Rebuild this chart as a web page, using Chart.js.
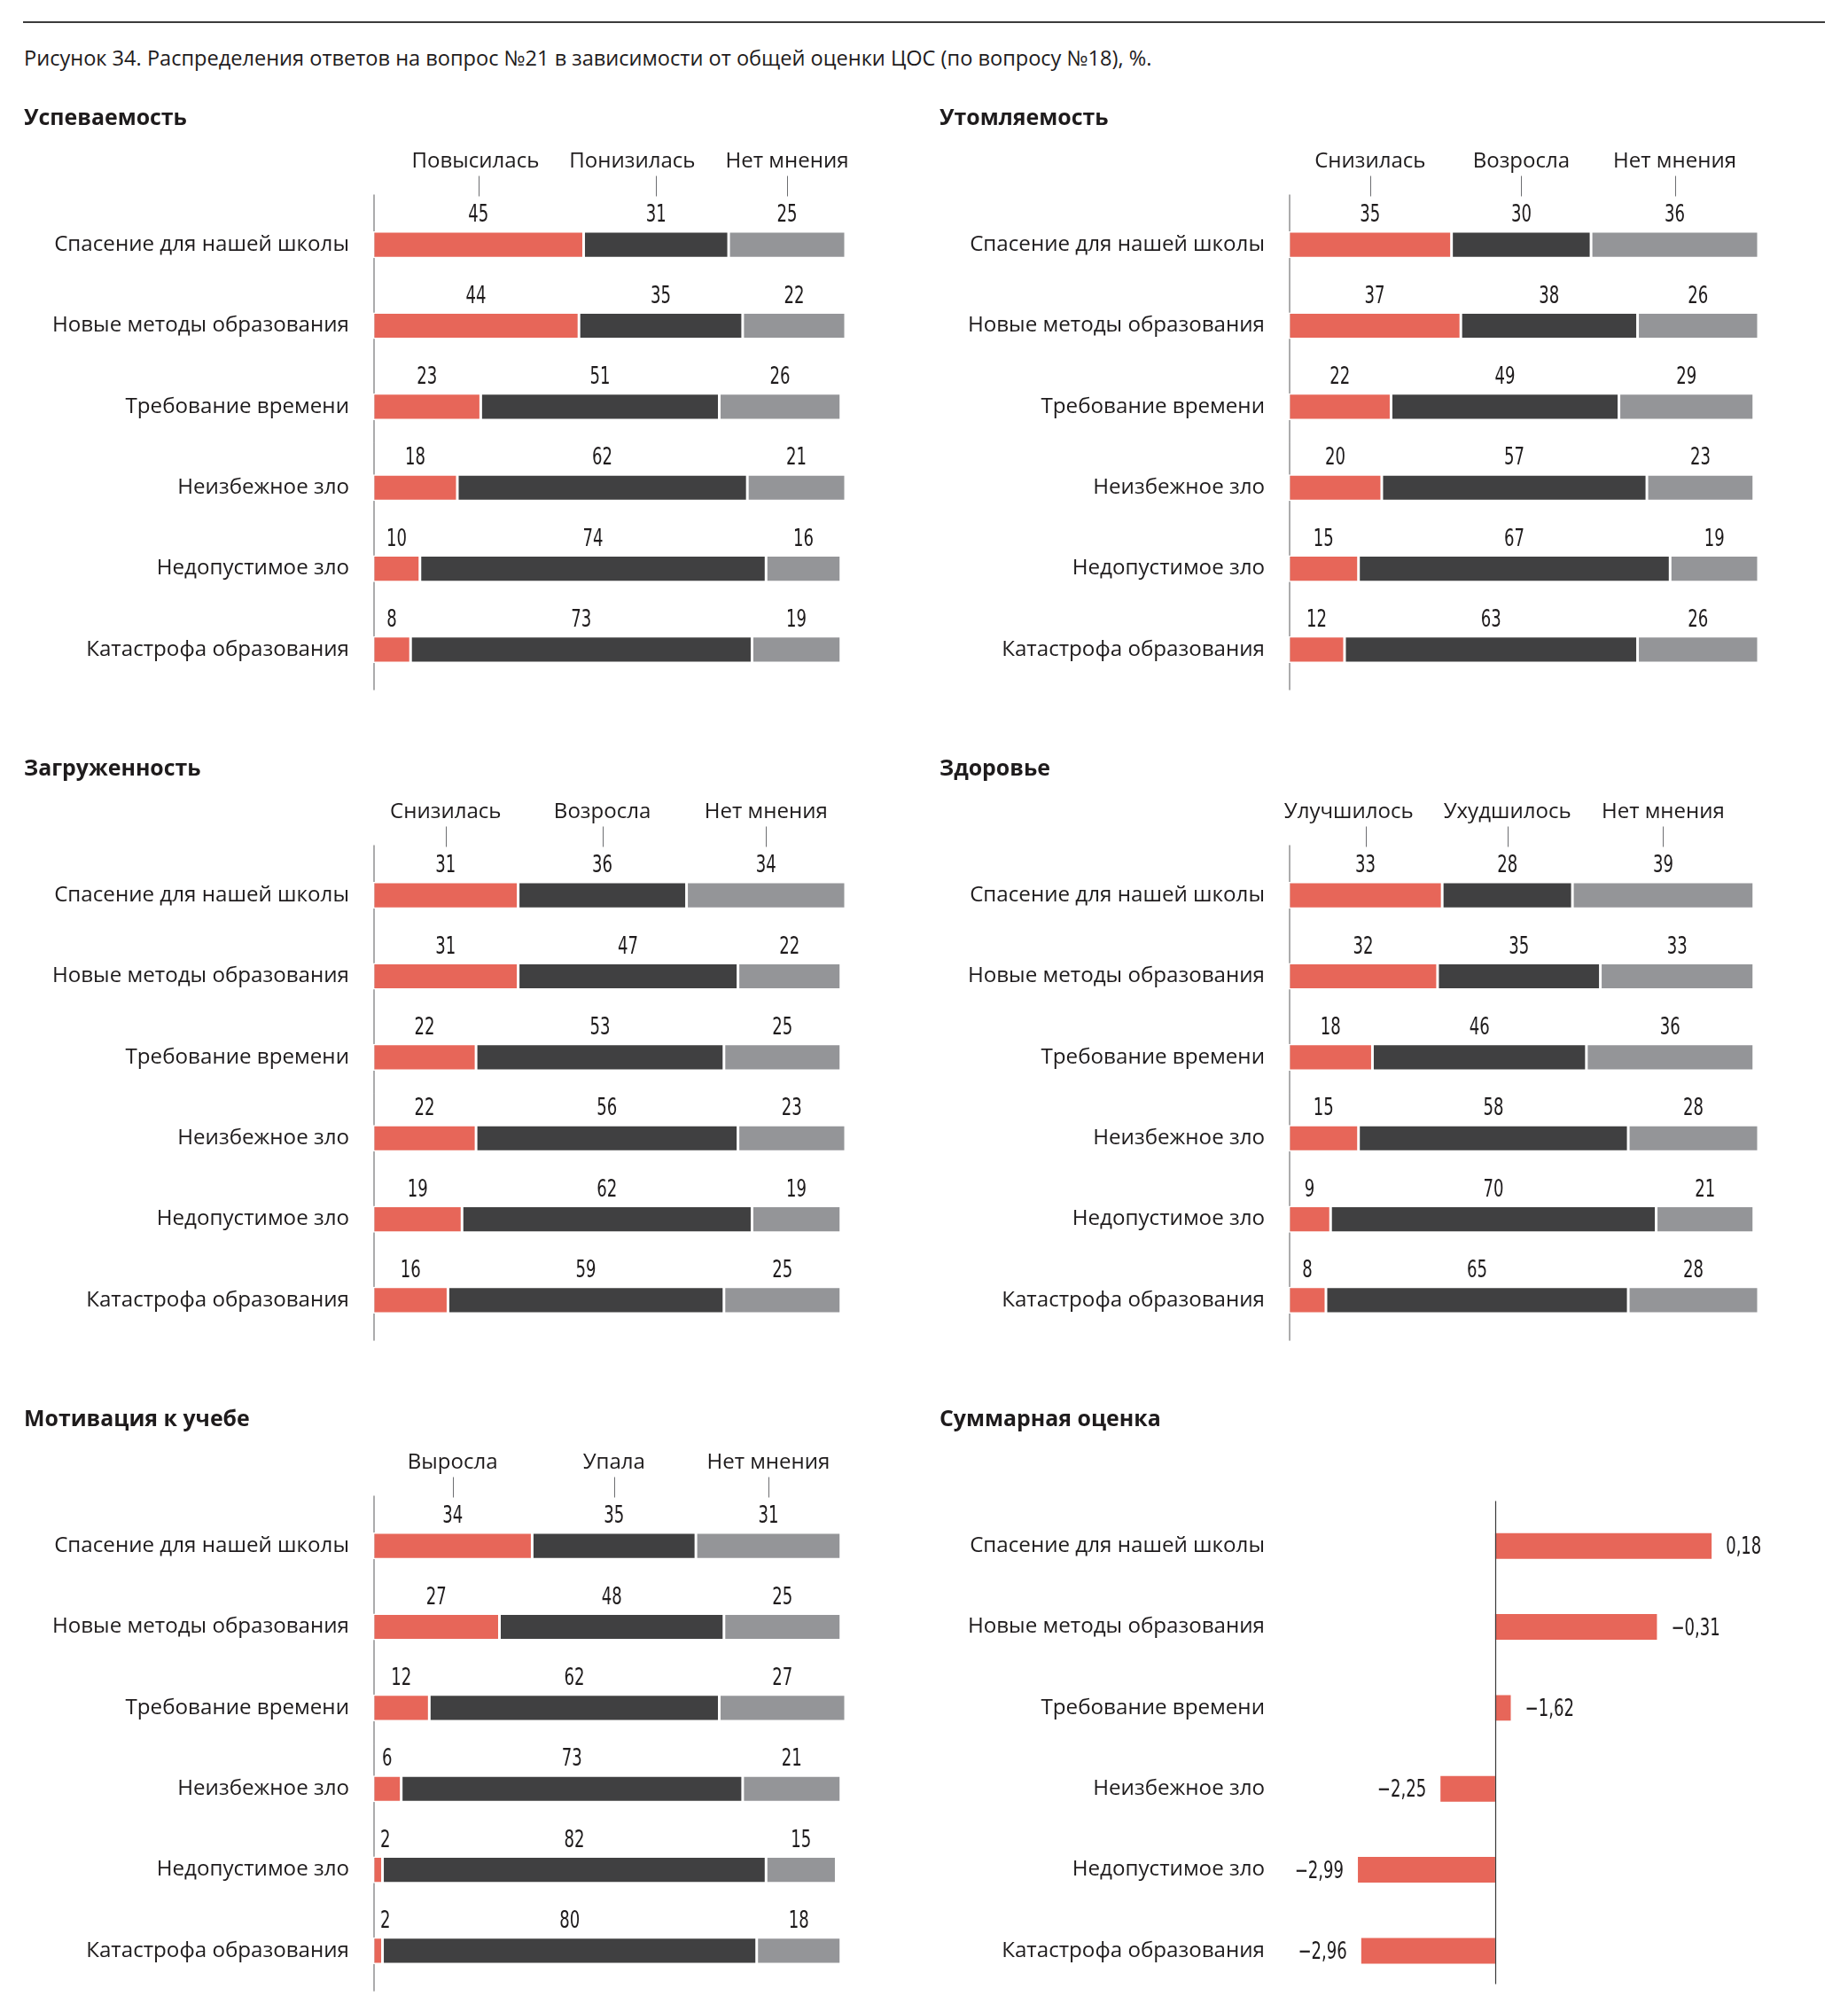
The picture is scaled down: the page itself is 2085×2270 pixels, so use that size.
<!DOCTYPE html>
<html lang="ru">
<head>
<meta charset="utf-8">
<title>Рисунок 34</title>
<script src="https://cdn.jsdelivr.net/npm/chart.js@4.4.1/dist/chart.umd.min.js"></script>
<style>
  html, body { margin: 0; padding: 0; background: #fff; }
  body { width: 2085px; height: 2270px; position: relative; overflow: hidden; }
  #rule { position: absolute; left: 26px; top: 24px; width: 2033px; height: 2px; background: #3b3b3b; }
  #caption { position: absolute; left: 27px; top: 65px; transform: translateY(-50%); white-space: nowrap;
             color: #1e1b1c; font-family: "Open Sans", sans-serif; line-height: 1.2; }
  canvas { position: absolute; }
</style>
</head>
<body>
<div id="rule"></div>
<div id="caption">Рисунок 34. Распределения ответов на вопрос №21 в зависимости от общей оценки ЦОС (по вопросу №18), %.</div>
<canvas id="c1"></canvas>
<canvas id="c2"></canvas>
<canvas id="c3"></canvas>
<canvas id="c4"></canvas>
<canvas id="c5"></canvas>
<canvas id="c6"></canvas>
<script>
/* data */
var categories = ['Спасение для нашей школы', 'Новые методы образования', 'Требование времени',
                  'Неизбежное зло', 'Недопустимое зло', 'Катастрофа образования'];

var uspevTitle = 'Успеваемость';
var uspevLegend = ['Повысилась', 'Понизилась', 'Нет мнения'];
var uspevUp = [45, 44, 23, 18, 10, 8];
var uspevDown = [31, 35, 51, 62, 74, 73];
var uspevNone = [25, 22, 26, 21, 16, 19];

var tiredTitle = 'Утомляемость';
var tiredLegend = ['Снизилась', 'Возросла', 'Нет мнения'];
var tiredDown = [35, 37, 22, 20, 15, 12];
var tiredUp = [30, 38, 49, 57, 67, 63];
var tiredNone = [36, 26, 29, 23, 19, 26];

var loadTitle = 'Загруженность';
var loadLegend = ['Снизилась', 'Возросла', 'Нет мнения'];
var loadDown = [31, 31, 22, 22, 19, 16];
var loadUp = [36, 47, 53, 56, 62, 59];
var loadNone = [34, 22, 25, 23, 19, 25];

var healthTitle = 'Здоровье';
var healthLegend = ['Улучшилось', 'Ухудшилось', 'Нет мнения'];
var healthBetter = [33, 32, 18, 15, 9, 8];
var healthWorse = [28, 35, 46, 58, 70, 65];
var healthNone = [39, 33, 36, 28, 21, 28];

var motivTitle = 'Мотивация к учебе';
var motivLegend = ['Выросла', 'Упала', 'Нет мнения'];
var motivUp = [34, 27, 12, 6, 2, 2];
var motivDown = [35, 48, 62, 73, 82, 80];
var motivNone = [31, 25, 27, 21, 15, 18];

var summaryTitle = 'Суммарная оценка';
var summaryScore = [0.18, -0.31, -1.62, -2.25, -2.99, -2.96];
var summaryBase = -1.76;

/* fonts */
var textFamily = '"Open Sans", "Noto Sans", sans-serif';
var probe = document.createElement('canvas').getContext('2d');

function hasFont(name) {
  probe.font = '40px monospace';
  var a = probe.measureText('0123456789 Тест').width;
  probe.font = '40px "' + name + '", monospace';
  return probe.measureText('0123456789 Тест').width !== a;
}
function fitSize(text, weight, family, target) {
  probe.font = weight + ' 100px ' + family;
  return 100 * target / probe.measureText(text).width;
}

var numFamily = 'Roboto';
if (hasFont('Liberation Sans Narrow')) numFamily = '"Liberation Sans Narrow"';
else if (hasFont('DejaVu Sans Condensed')) numFamily = '"DejaVu Sans Condensed"';
var numSize = 27;
probe.font = numSize + 'px ' + numFamily;
var numStretch = Math.min(1, 23 / probe.measureText('45').width);

var labelSize = fitSize(categories[0], 'normal', textFamily, 333);
var legendSize = fitSize(uspevLegend[0], 'normal', textFamily, 144);
var headSize = fitSize(uspevTitle, 'bold', textFamily, 184);
var caption = document.getElementById('caption');
caption.style.fontSize = fitSize(caption.textContent, 'normal', textFamily, 1273) + 'px';

var ink = '#1e1b1c';
var colors = ['#e76659', '#404041', '#949598'];

function drawNum(ctx, text, x, y, align) {
  ctx.save();
  ctx.translate(x, y);
  ctx.scale(numStretch, 1);
  ctx.font = numSize + 'px ' + numFamily;
  ctx.fillStyle = ink;
  ctx.textAlign = align;
  ctx.textBaseline = 'middle';
  ctx.fillText(text, 0, 0);
  ctx.restore();
}
function numWidth(ctx, text) {
  ctx.save();
  ctx.font = numSize + 'px ' + numFamily;
  var w = ctx.measureText(text).width * numStretch;
  ctx.restore();
  return w;
}
function fmt(v) {
  return v.toFixed(2).replace('.', ',').replace('-', '\u2212');
}

/* title, axis line, value labels, legend with ticks */
var panelDecor = {
  id: 'panelDecor',
  beforeDatasetsDraw: function (chart, args, opts) {
    if (opts.summary) return;
    var a = chart.chartArea, ctx = chart.ctx;
    ctx.save();
    ctx.strokeStyle = '#58585a';
    ctx.lineWidth = 1;
    ctx.beginPath();
    ctx.moveTo(a.left + 1, a.top - 11);
    ctx.lineTo(a.left + 1, a.bottom);
    ctx.stroke();
    ctx.restore();
  },
  afterDatasetsDraw: function (chart, args, opts) {
    var a = chart.chartArea, ctx = chart.ctx;
    ctx.save();
    ctx.fillStyle = ink;
    ctx.font = 'bold ' + headSize + 'px ' + textFamily;
    ctx.textAlign = 'left';
    ctx.textBaseline = 'middle';
    ctx.fillText(opts.title, opts.titleX, a.top - 97);
    ctx.restore();

    if (opts.summary) {
      var xs = chart.scales.x;
      var bx = Math.round(xs.getPixelForValue(summaryBase)) + 0.5;
      ctx.save();
      ctx.strokeStyle = '#3a3a3a';
      ctx.lineWidth = 1.2;
      ctx.beginPath();
      ctx.moveTo(bx, a.top - 5);
      ctx.lineTo(bx, a.bottom - 8);
      ctx.stroke();
      ctx.restore();
      chart.getDatasetMeta(0).data.forEach(function (bar, i) {
        var v = summaryScore[i];
        if (v >= summaryBase) drawNum(ctx, fmt(v), bar.x + 16, bar.y + 2, 'left');
        else drawNum(ctx, fmt(v), bar.x - 16, bar.y + 2, 'right');
      });
      return;
    }

    var ticks = [];
    chart.data.datasets.forEach(function (ds, d) {
      chart.getDatasetMeta(d).data.forEach(function (bar, i) {
        var cx = (bar.x + bar.base) / 2;
        var t = String(ds.data[i]);
        var w = numWidth(ctx, t);
        if (cx - w / 2 < a.left + 8) cx = a.left + 8 + w / 2;
        drawNum(ctx, t, cx, bar.y - 33, 'center');
        if (i === 0) ticks.push((bar.x + bar.base) / 2);
      });
    });

    ctx.save();
    ctx.strokeStyle = '#6d6e71';
    ctx.lineWidth = 1;
    ticks.forEach(function (tx) {
      var x = Math.round(tx) + 0.5;
      ctx.beginPath();
      ctx.moveTo(x, a.top - 32);
      ctx.lineTo(x, a.top - 9);
      ctx.stroke();
    });
    ctx.font = legendSize + 'px ' + textFamily;
    var boxes = opts.legend.map(function (t, i) {
      return { t: t, w: ctx.measureText(t).width, cx: ticks[i] };
    });
    for (var k = boxes.length - 2; k >= 0; k--) {
      var over = boxes[k].cx + boxes[k].w / 2 + 34 - (boxes[k + 1].cx - boxes[k + 1].w / 2);
      if (over > 0) boxes[k].cx -= over;
    }
    ctx.fillStyle = ink;
    ctx.textAlign = 'center';
    ctx.textBaseline = 'middle';
    boxes.forEach(function (b) { ctx.fillText(b.t, b.cx, a.top - 48); });
    ctx.restore();
  }
};

var cols = [
  { left: 0, width: 1040, axisW: 421, padRight: 86, titleX: 27 },
  { left: 1040, width: 1045, axisW: 414, padRight: 101, titleX: 20 }
];
var panelH = 712;

function place(id, col, row) {
  var c = document.getElementById(id);
  c.width = cols[col].width;
  c.height = panelH;
  c.style.left = cols[col].left + 'px';
  c.style.top = (90 + row * 734) + 'px';
  return c;
}

function baseOptions(col, decor) {
  return {
    indexAxis: 'y',
    responsive: false,
    animation: false,
    devicePixelRatio: 1,
    layout: { padding: { top: 140.5, bottom: panelH - 688.6, left: 0, right: cols[col].padRight } },
    scales: {
      x: { type: 'linear', stacked: true, min: 0, max: 101, display: false },
      y: {
        type: 'category', stacked: true, offset: true,
        grid: { display: false, drawTicks: false },
        border: { display: false },
        ticks: { autoSkip: false, padding: 27, color: ink, font: { family: textFamily, size: labelSize } },
        afterFit: function (s) {
          s.width = cols[col].axisW;
          s.paddingTop = 0;
          s.paddingBottom = 0;
        }
      }
    },
    plugins: { legend: { display: false }, tooltip: { enabled: false }, panelDecor: decor }
  };
}

function makePanel(id, col, row, title, legend, series) {
  var c = place(id, col, row);
  var datasets = series.map(function (vals, i) {
    return {
      label: legend[i],
      data: vals,
      backgroundColor: colors[i],
      borderColor: '#ffffff',
      borderWidth: 1.5,
      borderSkipped: false,
      barPercentage: 0.33,
      categoryPercentage: 1
    };
  });
  return new Chart(c, {
    type: 'bar',
    data: { labels: categories, datasets: datasets },
    options: baseOptions(col, { title: title, legend: legend, titleX: cols[col].titleX }),
    plugins: [panelDecor]
  });
}

makePanel('c1', 0, 0, uspevTitle, uspevLegend, [uspevUp, uspevDown, uspevNone]);
makePanel('c2', 1, 0, tiredTitle, tiredLegend, [tiredDown, tiredUp, tiredNone]);
makePanel('c3', 0, 1, loadTitle, loadLegend, [loadDown, loadUp, loadNone]);
makePanel('c4', 1, 1, healthTitle, healthLegend, [healthBetter, healthWorse, healthNone]);
makePanel('c5', 0, 2, motivTitle, motivLegend, [motivUp, motivDown, motivNone]);

/* summary */
var sumOpts = baseOptions(1, { title: summaryTitle, titleX: cols[1].titleX, summary: true });
sumOpts.scales.x = { type: 'linear', min: -3.61, max: 0.6, display: false };
sumOpts.scales.y.stacked = false;
new Chart(place('c6', 1, 2), {
  type: 'bar',
  data: {
    labels: categories,
    datasets: [{
      data: summaryScore,
      base: summaryBase,
      backgroundColor: colors[0],
      borderWidth: 0,
      barPercentage: 0.317,
      categoryPercentage: 1
    }]
  },
  options: sumOpts,
  plugins: [panelDecor]
});
</script>
</body>
</html>
